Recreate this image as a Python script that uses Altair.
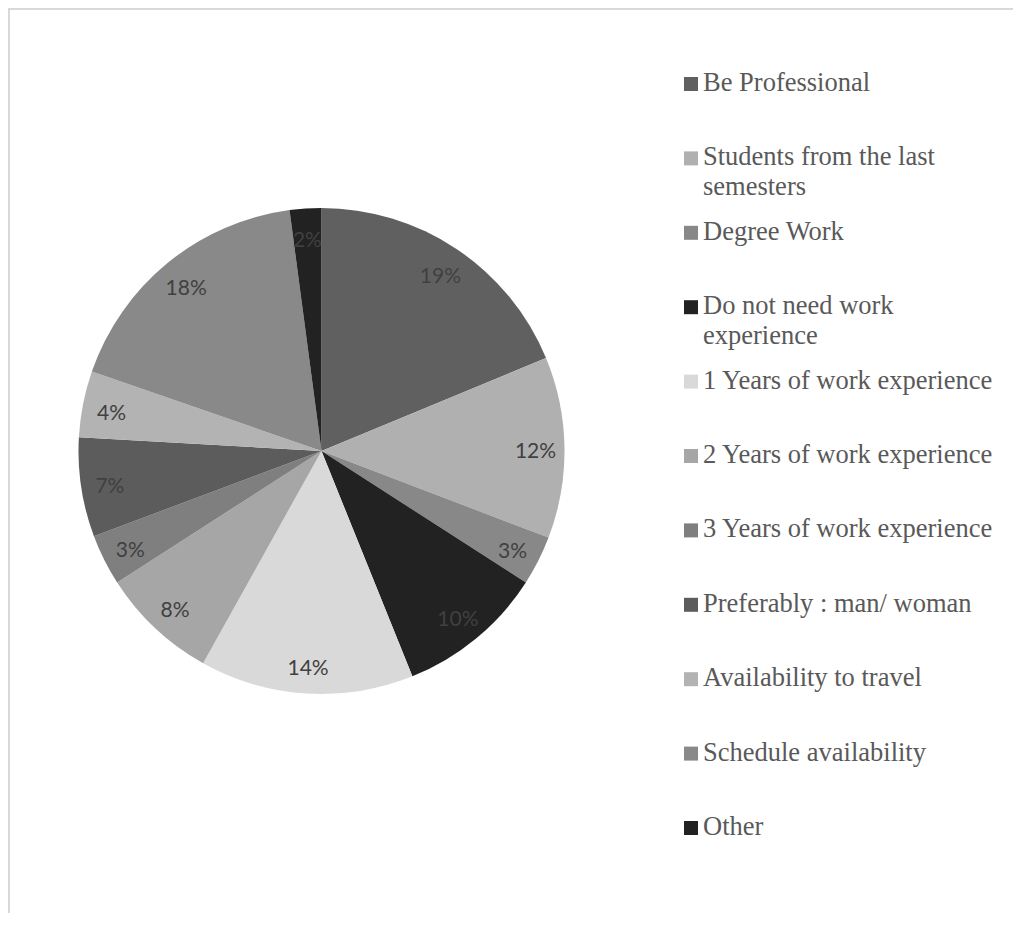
import altair as alt
import pandas as pd

categories = [
    "Be Professional",
    "Students from the last semesters",
    "Degree Work",
    "Do not need work experience",
    "1 Years of work experience",
    "2 Years of work experience",
    "3 Years of work experience",
    "Preferably : man/ woman",
    "Availability to travel",
    "Schedule availability",
    "Other",
]
legend_labels = [
    "Be Professional",
    "Students from the last\nsemesters",
    "Degree Work",
    "Do not need work\nexperience",
    "1 Years of work experience",
    "2 Years of work experience",
    "3 Years of work experience",
    "Preferably : man/ woman",
    "Availability to travel",
    "Schedule availability",
    "Other",
]
shares = [18.75, 12.05, 3.3, 9.8, 14.2, 7.8, 3.4, 6.6, 4.4, 17.6, 2.1]
pct_labels = ["19%", "12%", "3%", "10%", "14%", "8%", "3%", "7%", "4%", "18%", "2%"]
colors = ["#606060", "#b0b0b0", "#888888", "#222222", "#d9d9d9", "#a6a6a6",
          "#7f7f7f", "#5c5c5c", "#b3b3b3", "#898989", "#222222"]

df = pd.DataFrame({
    "idx": list(range(len(categories))),
    "category": categories,
    "share": shares,
    "pct": pct_labels,
    "legend_label": legend_labels,
})

CX, CY = 313.5, 443
color = alt.Color("category:N", scale=alt.Scale(domain=categories, range=colors), legend=None)
ypos = alt.Y("idx:Q", scale=alt.Scale(domain=[0, 10], range=[76, 820]), axis=None)

base = alt.Chart(df)

pie = base.mark_arc(radius=243).encode(
    theta=alt.Theta("share:Q", stack=True),
    color=color,
    order=alt.Order("idx:Q"),
    x=alt.value(CX),
    y=alt.value(CY),
)

pie_labels = base.mark_text(radius=214, font="Lato", fontSize=21, color="#404040", dy=4).encode(
    theta=alt.Theta("share:Q", stack=True),
    order=alt.Order("idx:Q"),
    text="pct:N",
    x=alt.value(CX),
    y=alt.value(CY),
)

swatches = base.mark_square(size=196, opacity=1).encode(
    x=alt.value(683),
    y=ypos,
    color=color,
)

legend_text = base.transform_calculate(
    lines="split(datum.legend_label, '\\n')"
).mark_text(
    align="left", baseline="alphabetic", font="Liberation Serif", fontSize=26.5,
    color="#595959", lineHeight=30, dy=7,
).encode(
    x=alt.value(695),
    y=ypos,
    text="lines:N",
)

frame = alt.Chart(pd.DataFrame({"a": [0]}))
top_rule = frame.mark_rule(color="#d9d9d9", strokeWidth=2).encode(
    x=alt.value(0), x2=alt.value(1005), y=alt.value(1)
)
left_rule = frame.mark_rule(color="#d9d9d9", strokeWidth=2).encode(
    x=alt.value(1), y=alt.value(0), y2=alt.value(905)
)

chart = alt.layer(pie, pie_labels, swatches, legend_text, top_rule, left_rule).properties(
    width=1005, height=905, padding=0,
    autosize=alt.AutoSizeParams(type="none"),
).configure_view(stroke=None)

chart.save("out.html", embed_options={"renderer": "svg", "actions": False})
